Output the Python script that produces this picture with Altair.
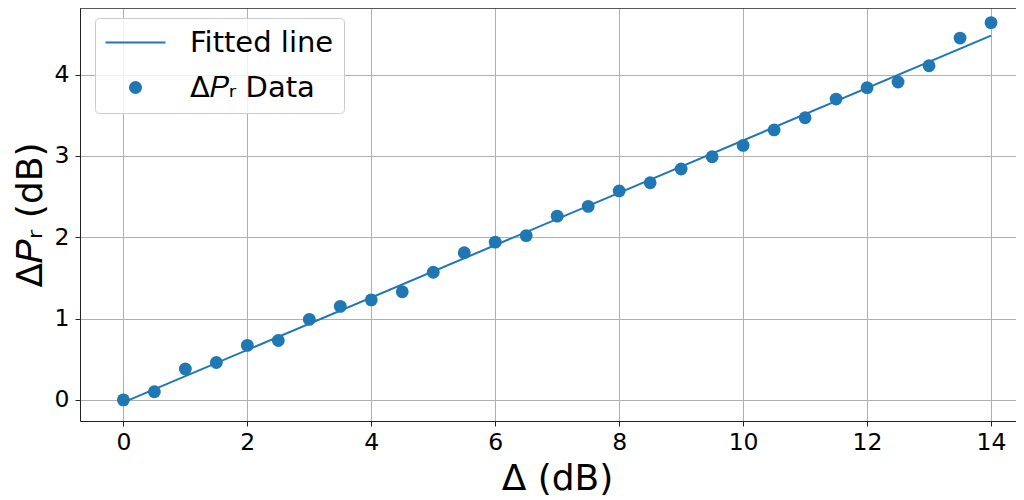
import altair as alt
import pandas as pd

# ---- data ----
delta_db = [0, 0.5, 1, 1.5, 2, 2.5, 3, 3.5, 4, 4.5, 5, 5.5, 6, 6.5, 7, 7.5,
            8, 8.5, 9, 9.5, 10, 10.5, 11, 11.5, 12, 12.5, 13, 13.5, 14]
delta_pr = [0.00, 0.10, 0.38, 0.46, 0.67, 0.73, 0.99, 1.15, 1.23, 1.33, 1.57,
            1.81, 1.94, 2.02, 2.26, 2.38, 2.57, 2.67, 2.84, 2.99, 3.13, 3.32,
            3.47, 3.70, 3.84, 3.91, 4.11, 4.45, 4.64]
fit_x = [0, 14]
fit_y = [-0.03, 4.48]
series_names = ["Fitted line", "Δ𝑃ᵣ Data"]
x_ticks = [0, 2, 4, 6, 8, 10, 12, 14]
y_ticks = [0, 1, 2, 3, 4]

BLUE = "#1f77b4"
FONT = "DejaVu Sans"
W, H = 936, 413

pts = pd.DataFrame({"x": delta_db, "y": delta_pr, "series": series_names[1]})
fit = pd.DataFrame({"x": fit_x, "y": fit_y})

xscale = alt.Scale(domain=[-0.7, 14.403], nice=False, zero=False)
yscale = alt.Scale(domain=[-0.26, 4.82], nice=False, zero=False)

xaxis = alt.Axis(values=x_ticks, title="Δ (dB)", format="d", titleX=477)
yaxis = alt.Axis(values=y_ticks, title="Δ𝑃ᵣ (dB)", format="d")

line = alt.Chart(fit).mark_line(color=BLUE, strokeWidth=2).encode(
    x=alt.X("x:Q", scale=xscale, axis=xaxis),
    y=alt.Y("y:Q", scale=yscale, axis=yaxis),
)

# legend symbol for the fitted line: a thin filled bar; for the data: a circle
LINE_SYMBOL = "M-4.6,-0.16H4.6V0.16H-4.6Z"

points = alt.Chart(pts).mark_point(
    filled=True, opacity=1, color=BLUE, size=165
).encode(
    x=alt.X("x:Q", scale=xscale, axis=xaxis),
    y=alt.Y("y:Q", scale=yscale, axis=yaxis),
    shape=alt.Shape(
        "series:N",
        scale=alt.Scale(domain=series_names, range=[LINE_SYMBOL, "circle"]),
        legend=alt.Legend(
            title=None,
            orient="none",
            legendX=15,
            legendY=10,
            padding=10,
            symbolOffset=16,
            symbolSize=170,
            symbolFillColor=BLUE,
            labelOffset=40,
            rowPadding=15,
            labelFont=FONT,
            labelFontSize=29,
            labelColor="black",
            fillColor="rgba(255,255,255,0.8)",
            strokeColor="#cccccc",
            cornerRadius=4,
        ),
    ),
)

top_spine = alt.Chart(fit).mark_rule(color="#222222", strokeWidth=1).encode(
    x=alt.value(0), x2=alt.value(W), y=alt.value(0)
)

chart = (
    alt.layer(line, points, top_spine)
    .properties(
        width=W,
        height=H,
        autosize=alt.AutoSizeParams(type="none"),
        padding={"left": 72, "top": 0, "right": 0, "bottom": 78},
    )
    .configure_view(stroke=None)
    .configure_axis(
        labelFont=FONT,
        labelFontSize=23.5,
        labelColor="black",
        titleFont=FONT,
        titleFontSize=36,
        titleFontWeight="normal",
        titleColor="black",
        tickColor="#222222",
        tickSize=5,
        tickWidth=1,
        domainColor="#222222",
        domainWidth=1,
        grid=True,
        gridColor="#b0b0b0",
        gridWidth=1,
    )
    .configure_axisX(labelPadding=4, titlePadding=8)
    .configure_axisY(labelPadding=6, titlePadding=5)
)

chart.save("out.html", embed_options={"renderer": "svg", "actions": False})
